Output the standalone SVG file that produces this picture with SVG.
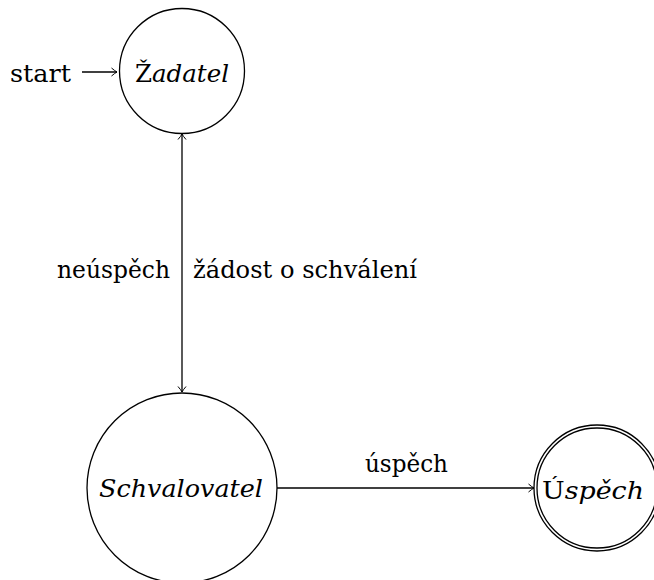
<svg xmlns="http://www.w3.org/2000/svg" width="654" height="580" viewBox="0 0 654 580">
  <defs>
    <style>
      .lbl { font-family: 'DejaVu Serif', 'Liberation Serif', serif; font-size: 25px; fill: #000; }
      .it { font-style: italic; }
      .state { fill: none; stroke: #000; stroke-width: 1.3; }
      .edge { fill: none; stroke: #000; stroke-width: 1.3; }
    </style>
    <marker id="tip" viewBox="-6 -5 8 10" refX="0" refY="0" markerWidth="8" markerHeight="10" markerUnits="userSpaceOnUse" orient="auto-start-reverse">
      <path d="M -5.5 -4 Q -2 -1 0 0 Q -2 1 -5.5 4" fill="none" stroke="#000" stroke-width="1"/>
    </marker>
  </defs>

  <rect width="654" height="580" fill="#fff"/>

  <!-- transitions -->
  <g id="connectors">
    <line class="edge" x1="82" y1="72" x2="117" y2="72" marker-end="url(#tip)"/>
    <line class="edge" x1="182" y1="134" x2="182" y2="392" marker-start="url(#tip)" marker-end="url(#tip)"/>
    <line class="edge" x1="277" y1="488" x2="534" y2="488" marker-end="url(#tip)"/>
    <text class="lbl" x="10" y="82" textLength="61" lengthAdjust="spacingAndGlyphs">start</text>
    <text class="lbl" x="170" y="278" text-anchor="end" textLength="113" lengthAdjust="spacingAndGlyphs">neúspěch</text>
    <text class="lbl" x="193" y="278" textLength="224" lengthAdjust="spacingAndGlyphs">žádost o schválení</text>
    <text class="lbl" x="365" y="472" textLength="83" lengthAdjust="spacingAndGlyphs">úspěch</text>
  </g>

  <g id="zadatel">
    <circle class="state" cx="182" cy="71" r="62.5"/>
    <text class="lbl" x="135" y="82" textLength="94" lengthAdjust="spacingAndGlyphs">Ž<tspan class="it">adatel</tspan></text>
  </g>

  <g id="schvalovatel">
    <circle class="state" cx="182" cy="488" r="95"/>
    <text class="lbl it" x="99" y="497" textLength="164" lengthAdjust="spacingAndGlyphs">Schvalovatel</text>
  </g>

  <g id="uspech">
    <circle class="state" cx="597" cy="488" r="63"/>
    <circle class="state" cx="597" cy="488" r="60"/>
    <text class="lbl" x="542" y="499" textLength="102" lengthAdjust="spacingAndGlyphs">Ú<tspan class="it">spěch</tspan></text>
  </g>
</svg>
